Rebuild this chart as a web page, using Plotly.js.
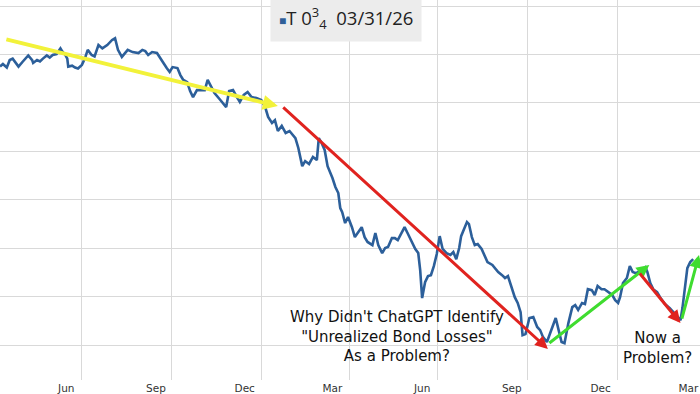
<!DOCTYPE html>
<html>
<head>
<meta charset="utf-8">
<script src="https://cdn.plot.ly/plotly-3.0.1.min.js"></script>
<style>html,body{margin:0;padding:0;background:#fff;}#chart{width:700px;height:394px;}</style>
</head>
<body>
<div id="chart"></div>
<script>
// Price of T 0 3/4 03/31/26
const dates = [
"2021-04-08","2021-04-11","2021-04-15","2021-04-18","2021-04-21","2021-04-25","2021-04-27","2021-05-01","2021-05-04","2021-05-07",
"2021-05-11","2021-05-12","2021-05-16","2021-05-19","2021-05-22","2021-05-26","2021-05-29","2021-06-01","2021-06-05","2021-06-09",
"2021-06-11","2021-06-14","2021-06-16","2021-06-17","2021-06-21","2021-06-24","2021-06-27","2021-07-01","2021-07-04","2021-07-07",
"2021-07-11","2021-07-14","2021-07-18","2021-07-22","2021-07-27","2021-08-01","2021-08-04","2021-08-07",
"2021-08-11","2021-08-14","2021-08-17","2021-08-22","2021-08-28","2021-09-01","2021-09-04","2021-09-07","2021-09-11","2021-09-16",
"2021-09-19","2021-09-22","2021-09-26","2021-09-29","2021-10-02","2021-10-07","2021-10-10","2021-10-13","2021-10-17","2021-10-20",
"2021-10-23","2021-10-27","2021-10-31","2021-11-04","2021-11-07","2021-11-11","2021-11-14","2021-11-20","2021-11-23","2021-11-26",
"2021-11-29","2021-12-03","2021-12-07","2021-12-10","2021-12-14","2021-12-18","2021-12-22","2021-12-27","2022-01-01","2022-01-05",
"2022-01-08","2022-01-12","2022-01-15","2022-01-18","2022-01-22","2022-01-26","2022-01-30","2022-02-05","2022-02-08","2022-02-12",
"2022-02-15","2022-02-19","2022-02-23","2022-02-27","2022-03-01","2022-03-04","2022-03-07","2022-03-10","2022-03-15","2022-03-18",
"2022-03-21","2022-03-23",
"2022-03-25","2022-03-28","2022-03-31","2022-04-04","2022-04-07","2022-04-10","2022-04-14","2022-04-17","2022-04-20","2022-04-25",
"2022-04-28","2022-05-01","2022-05-05","2022-05-08","2022-05-11","2022-05-15","2022-05-18","2022-05-21","2022-05-25","2022-05-28",
"2022-05-31","2022-06-05","2022-06-08","2022-06-11","2022-06-13","2022-06-15","2022-06-18","2022-06-21","2022-06-24","2022-06-27",
"2022-06-30","2022-07-03","2022-07-06","2022-07-10","2022-07-14",
"2022-07-17","2022-07-20","2022-07-23","2022-07-25","2022-07-28","2022-07-31","2022-08-02","2022-08-05","2022-08-08","2022-08-11",
"2022-08-15","2022-08-18","2022-08-21","2022-08-26","2022-08-29","2022-09-01","2022-09-05","2022-09-08","2022-09-11","2022-09-14",
"2022-09-18","2022-09-21","2022-09-24","2022-09-26","2022-09-29","2022-10-03","2022-10-07","2022-10-11","2022-10-14","2022-10-17",
"2022-10-21","2022-10-24","2022-10-27","2022-10-30",
"2022-11-02","2022-11-05","2022-11-08","2022-11-12","2022-11-16","2022-11-19","2022-11-22","2022-11-26","2022-11-29","2022-12-02",
"2022-12-06","2022-12-09","2022-12-12","2022-12-16","2022-12-19","2022-12-23","2022-12-27","2022-12-30","2023-01-02","2023-01-04",
"2023-01-07","2023-01-11","2023-01-14","2023-01-17","2023-01-20","2023-01-23","2023-01-26","2023-01-30","2023-02-01","2023-02-04",
"2023-02-07","2023-02-11","2023-02-14","2023-02-19","2023-02-24","2023-03-01","2023-03-04","2023-03-07","2023-03-09","2023-03-12",
"2023-03-14","2023-03-15","2023-03-17","2023-03-20"
];
const prices = [
97.50,97.61,97.46,97.77,97.83,97.61,97.50,97.69,97.83,97.96,
97.77,97.65,97.77,97.71,97.83,97.96,97.87,97.98,98.02,98.25,
98.12,97.98,97.83,97.50,97.54,97.46,97.42,97.57,97.83,98.19,
97.98,97.92,98.39,98.25,98.39,98.60,98.67,98.19,
97.90,98.06,98.19,98.10,98.06,98.19,98.14,97.98,98.10,98.06,
97.85,97.69,97.44,97.28,97.48,97.44,97.15,96.95,96.86,96.49,
96.24,96.53,96.53,96.53,96.95,96.66,96.41,96.12,95.95,95.83,
96.49,96.53,96.24,96.04,96.33,96.45,96.24,96.20,96.12,95.83,
95.42,95.17,95.29,94.84,95.05,94.76,94.84,94.55,94.14,93.39,
93.60,93.48,93.77,93.64,94.55,94.34,94.06,93.39,92.90,92.53,
92.28,91.66,
91.49,91.04,91.29,90.87,90.46,90.63,90.87,90.46,90.26,90.13,
90.63,90.13,89.80,90.01,90.05,90.42,90.42,90.34,90.67,90.87,
90.63,90.21,89.97,89.80,89.10,87.94,88.60,88.85,88.89,89.26,
89.76,90.50,89.97,89.80,89.72,
89.84,89.55,90.01,90.50,90.79,91.08,91.00,90.46,90.13,90.17,
89.97,89.72,89.43,89.31,89.14,89.02,88.89,88.77,88.85,88.44,
87.98,87.74,87.36,86.41,86.46,87.12,87.16,86.75,86.62,86.33,
86.13,86.46,86.83,87.12,
86.62,86.13,86.08,86.91,87.57,87.65,87.45,87.74,87.70,88.31,
88.27,88.07,88.44,88.31,88.31,88.19,88.07,87.86,87.74,87.98,
88.56,88.77,89.26,89.02,88.97,89.02,89.10,89.22,89.02,88.56,
88.31,88.19,87.98,87.70,87.53,87.32,87.20,87.03,87.53,88.64,
89.18,89.26,89.43,89.55
];

// Month labels (centred mid-month) and quarter gridlines
const tickDates = ["2021-06-15","2021-09-15","2021-12-15","2022-03-15","2022-06-15","2022-09-15","2022-12-15","2023-03-15"];
const tickLabels = ["Jun","Sep","Dec","Mar","Jun","Sep","Dec","Mar"];
const gridDates = ["2021-07-01","2021-10-01","2022-01-01","2022-04-01","2022-07-01","2022-10-01","2023-01-01"];

// Hand-drawn arrows: tail -> head
const arrowTailX = ["2021-04-13","2022-01-22","2022-10-22","2023-01-23","2023-03-08"];
const arrowTailY = [98.64, 95.87, 86.04, 89.02, 87.03];
const arrowHeadX = ["2022-01-18","2022-10-22","2023-02-03","2023-03-07","2023-03-26"];
const arrowHeadY = [95.87, 85.84, 89.31, 86.91, 89.72];
const arrowColors = ["#f2f23a","#e0231f","#3fdc2f","#e0231f","#3fdc2f"];
const arrowWidths = [4, 3, 3, 3, 3];
const arrowSizes = [0.75, 0.85, 0.85, 0.85, 0.85];

const legendText = "<span style='font-size:12px;color:#2f5f98'>■</span>T 0<sup>3</sup><sub>4</sub>  03/31/26";
const note1 = "Why Didn't ChatGPT Identify<br>\"Unrealized Bond Losses\"<br>As a Problem?";
const note2 = "Now a<br>Problem?";

const annotations = [];
for (let i = 0; i < arrowTailX.length; i++) {
  annotations.push({
    x: arrowHeadX[i], y: arrowHeadY[i], xref: 'x', yref: 'y',
    ax: arrowTailX[i], ay: arrowTailY[i], axref: 'x', ayref: 'y',
    text: '', showarrow: true, arrowhead: 2, arrowsize: arrowSizes[i],
    arrowwidth: arrowWidths[i], arrowcolor: arrowColors[i], standoff: 0, startstandoff: 0
  });
}
annotations.push({
  x: "2022-05-20", y: 86.37, xref: 'x', yref: 'y', text: note1, showarrow: false,
  xanchor: 'center', yanchor: 'middle', align: 'center',
  font: {family: 'DejaVu Sans', size: 15, color: '#111'}
});
annotations.push({
  x: "2023-02-11", y: 85.90, xref: 'x', yref: 'y', text: note2, showarrow: false,
  xanchor: 'center', yanchor: 'middle', align: 'center',
  font: {family: 'DejaVu Sans', size: 15, color: '#111'}
});
annotations.push({
  x: 0.4943, y: 1.015, xref: 'paper', yref: 'paper', text: legendText, showarrow: false,
  xanchor: 'center', yanchor: 'top', bgcolor: '#ececec', borderpad: 8,
  font: {family: 'Open Sans', size: 18.5, color: '#222'}
});

const trace = {
  x: dates, y: prices, type: 'scatter', mode: 'lines',
  line: {color: '#2c5f9a', width: 2.6}, showlegend: false, hoverinfo: 'skip'
};

const layout = {
  width: 700, height: 394,
  margin: {l: 0, r: 0, t: 0, b: 14, pad: 0},
  paper_bgcolor: '#ffffff', plot_bgcolor: '#ffffff',
  showlegend: false,
  xaxis: {
    type: 'date', range: ["2021-04-08", "2023-03-27"],
    tickmode: 'array', tickvals: tickDates, ticktext: tickLabels,
    showgrid: false, zeroline: false, showline: false, ticks: '',
    tickfont: {family: 'DejaVu Sans', size: 10.5, color: '#333'},
    minor: {tickmode: 'array', tickvals: gridDates, showgrid: true, gridcolor: '#d9d9d9', gridwidth: 1, ticks: ''}
  },
  yaxis: {
    range: [84.56, 100.25], dtick: 2, tick0: 86,
    showgrid: true, gridcolor: '#d9d9d9', gridwidth: 1,
    showticklabels: false, zeroline: false, showline: false, ticks: ''
  },
  annotations: annotations
};

Plotly.newPlot('chart', [trace], layout, {displayModeBar: false, staticPlot: true});
</script>
</body>
</html>
